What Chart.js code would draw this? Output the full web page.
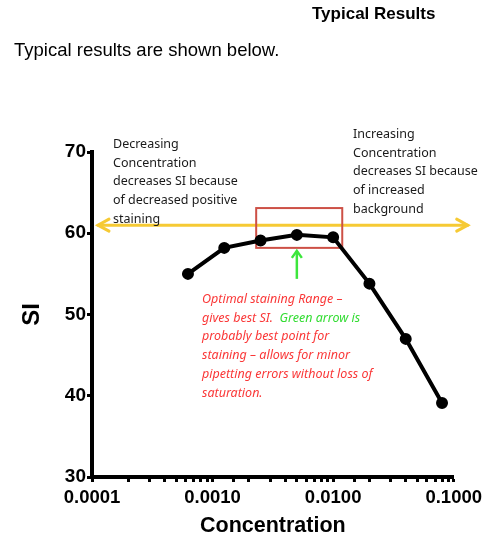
<!DOCTYPE html>
<html>
<head>
<meta charset="utf-8">
<script src="https://cdn.jsdelivr.net/npm/chart.js@4"></script>
<style>
  html, body { margin: 0; padding: 0; background: #fff; }
  #wrap { position: relative; width: 487px; height: 539px; }
  .hd { position: absolute; font-family: "Liberation Sans", Arial, sans-serif; color: #000; white-space: nowrap; }
  #h1 { left: 312px; top: 4px; font-size: 17px; font-weight: bold; }
  #h2 { left: 14px; top: 39px; font-size: 18.5px; }
</style>
</head>
<body>
<div id="wrap">
  <canvas id="siChart" width="487" height="539"></canvas>
  <div class="hd" id="h1">Typical Results</div>
  <div class="hd" id="h2">Typical results are shown below.</div>
</div>
<script>
// data (2-fold dilution series)
const concentration = [0.000625, 0.00125, 0.0025, 0.005, 0.01, 0.02, 0.04, 0.08];
const siValues = [55.0, 58.2, 59.1, 59.8, 59.5, 53.8, 47.0, 39.1];
const yTicks = [30, 40, 50, 60, 70];
const xRange = [0.0001, 0.1];

// annotation values (data space)
const bandLevel = 61;              // yellow double arrow
const optimalRange = [0.0023, 0.0119, 58.2, 63.1]; // red box x0,x1,y0,y1
const bestPoint = 0.005;           // green arrow

const leftNote = ['Decreasing', 'Concentration', 'decreases SI because', 'of decreased positive', 'staining'];
const rightNote = ['Increasing', 'Concentration', 'decreases SI because', 'of increased', 'background'];
const redNote = ['Optimal staining Range \u2013', 'gives best SI.  ', 'probably best point for',
  'staining \u2013 allows for minor', 'pipetting errors without loss of', 'saturation.'];
const greenNote = 'Green arrow is';

const axisFont = '"Liberation Sans Narrow", "Arial Narrow", "Liberation Sans", Arial, sans-serif';
const noteFont = '"Century Gothic", "Noto Sans", sans-serif';

function arrowHead(ctx, tx, ty, dir) {
  ctx.beginPath();
  ctx.moveTo(tx - dir * 11, ty - 6);
  ctx.lineTo(tx, ty);
  ctx.lineTo(tx - dir * 11, ty + 6);
  ctx.stroke();
}

const notes = {
  id: 'notes',
  beforeDatasetsDraw(chart) {
    const { ctx, chartArea: a, scales: { x, y } } = chart;
    ctx.save();
    // yellow double arrow
    const yy = y.getPixelForValue(bandLevel);
    ctx.strokeStyle = 'rgb(246, 202, 52)';
    ctx.lineWidth = 3;
    ctx.lineCap = 'round';
    ctx.beginPath();
    ctx.moveTo(a.left + 6, yy);
    ctx.lineTo(a.right + 14, yy);
    ctx.stroke();
    arrowHead(ctx, a.left + 6, yy, -1);
    arrowHead(ctx, a.right + 14, yy, 1);

    // red box
    const x0 = x.getPixelForValue(optimalRange[0]);
    const x1 = x.getPixelForValue(optimalRange[1]);
    const y0 = y.getPixelForValue(optimalRange[2]);
    const y1 = y.getPixelForValue(optimalRange[3]);
    ctx.strokeStyle = 'rgb(205, 80, 70)';
    ctx.lineWidth = 2;
    ctx.lineCap = 'butt';
    ctx.strokeRect(x0, y1, x1 - x0, y0 - y1);

    // green arrow
    const gx = x.getPixelForValue(bestPoint);
    ctx.strokeStyle = 'rgb(60, 230, 60)';
    ctx.lineWidth = 2.5;
    ctx.beginPath();
    ctx.moveTo(gx, y0 + 3);
    ctx.lineTo(gx, y0 + 31);
    ctx.stroke();
    ctx.beginPath();
    ctx.moveTo(gx - 5, y0 + 10);
    ctx.lineTo(gx, y0 + 3);
    ctx.lineTo(gx + 5, y0 + 10);
    ctx.stroke();
    ctx.restore();
  },
  afterDraw(chart) {
    const { ctx } = chart;
    ctx.save();
    ctx.textBaseline = 'alphabetic';
    ctx.textAlign = 'left';
    ctx.font = '12.5px ' + noteFont;
    ctx.fillStyle = '#1a1a1a';
    leftNote.forEach((t, i) => ctx.fillText(t, 113, 148 + i * 18.7));
    rightNote.forEach((t, i) => ctx.fillText(t, 353, 138 + i * 18.7));

    ctx.font = 'italic 12.5px ' + noteFont;
    redNote.forEach((t, i) => {
      ctx.fillStyle = 'rgb(250, 55, 55)';
      ctx.fillText(t, 202, 303 + i * 18.7);
      if (i === 1) {
        ctx.fillStyle = 'rgb(50, 220, 50)';
        ctx.fillText(greenNote, 202 + ctx.measureText(t).width, 303 + i * 18.7);
      }
    });
    ctx.restore();
  }
};

new Chart(document.getElementById('siChart'), {
  type: 'scatter',
  data: {
    datasets: [{
      data: concentration.map((c, i) => ({ x: c, y: siValues[i] })),
      showLine: true,
      borderColor: '#000',
      backgroundColor: '#000',
      borderWidth: 4,
      pointRadius: 4,
      pointHoverRadius: 4
    }]
  },
  options: {
    responsive: false,
    animation: false,
    events: [],
    layout: { padding: { top: 152, right: 29, left: 0, bottom: 0 } },
    plugins: { legend: { display: false }, tooltip: { enabled: false } },
    scales: {
      x: {
        type: 'logarithmic',
        min: xRange[0],
        max: xRange[1],
        border: { color: '#000', width: 4 },
        grid: { drawOnChartArea: false, drawTicks: true, tickLength: 5, tickWidth: 3, tickColor: '#000' },
        ticks: {
          autoSkip: false,
          maxRotation: 0,
          padding: 5,
          color: '#000',
          font: { family: axisFont, size: 18.5, weight: 'bold' },
          callback: (v) => {
            const l = Math.log10(v);
            return Math.abs(l - Math.round(l)) < 1e-6 ? Number(v).toFixed(4) : '';
          }
        },
        title: {
          display: true,
          text: 'Concentration',
          color: '#000',
          font: { family: axisFont, size: 21.5, weight: 'bold' },
          padding: { top: 0, bottom: 0 }
        },
        afterFit: (s) => { s.height = 62; }
      },
      y: {
        min: yTicks[0],
        max: yTicks[yTicks.length - 1],
        afterBuildTicks: (s) => { s.ticks = yTicks.map(v => ({ value: v })); },
        border: { color: '#000', width: 4 },
        grid: { drawOnChartArea: false, drawTicks: true, tickLength: 5, tickWidth: 3, tickColor: '#000' },
        ticks: {
          padding: 1,
          color: '#000',
          font: { family: axisFont, size: 19, weight: 'bold' }
        },
        title: {
          display: true,
          text: 'SI',
          color: '#000',
          font: { family: axisFont, size: 24, weight: 'bold' },
          padding: { top: 18, bottom: 0 }
        },
        afterFit: (s) => { s.width = 92; }
      }
    }
  },
  plugins: [notes]
});
</script>
</body>
</html>
